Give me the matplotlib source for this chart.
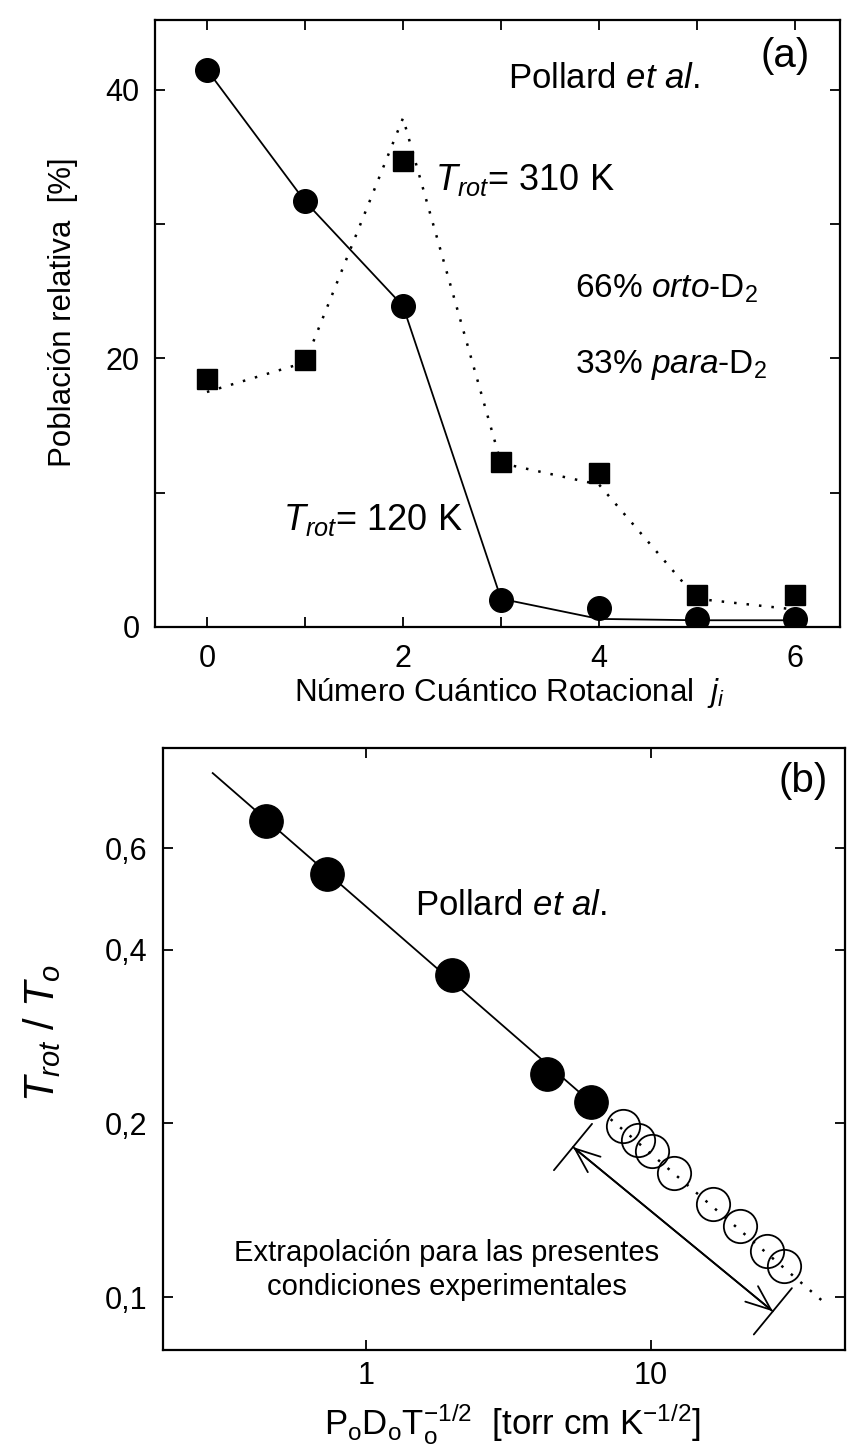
import matplotlib
matplotlib.use("Agg")
import matplotlib.pyplot as plt
from matplotlib.ticker import NullLocator

plt.rcParams['font.family'] = ['Liberation Sans', 'DejaVu Sans']
plt.rcParams['mathtext.fontset'] = 'custom'
plt.rcParams['mathtext.rm'] = 'Liberation Sans'
plt.rcParams['mathtext.it'] = 'Liberation Sans:italic'
plt.rcParams['mathtext.bf'] = 'Liberation Sans:bold'
plt.rcParams['mathtext.sf'] = 'Liberation Sans'

# (a) rotational populations, Pollard et al.
j_levels = [0, 1, 2, 3, 4, 5, 6]
pop_120K = [41.5, 31.7, 23.9, 2.0, 1.4, 0.6, 0.6]
pop_310K = [18.5, 19.9, 34.7, 12.3, 11.5, 2.4, 2.4]
fit_120K = [41.5, 31.7, 23.9, 2.1, 0.6, 0.5, 0.5]
fit_310K = [17.5, 19.7, 37.9, 12.2, 10.6, 2.1, 1.3]

# (b) T_rot/T_o vs PoDoTo^-1/2
x_pollard = [0.446, 0.730, 2.0, 4.32, 6.16]
y_pollard = [0.668, 0.541, 0.362, 0.244, 0.218]
x_fit = [0.29, 6.2]
y_fit = [0.809, 0.217]
x_extrap = [6.2, 40.0]
y_extrap = [0.217, 0.0985]
x_present = [7.97, 9.0, 10.1, 12.1, 16.5, 20.5, 25.5, 29.3]
y_present = [0.198, 0.187, 0.179, 0.164, 0.145, 0.133, 0.120, 0.113]
arrow_start = (5.33, 0.182)
arrow_end = (26.8, 0.0945)

fig = plt.figure(figsize=(8.47, 14.5), dpi=100)
ax1 = fig.add_axes([0.183, 0.5676, 0.809, 0.4186])
ax2 = fig.add_axes([0.1924, 0.0690, 0.8052, 0.4151])

for ax in (ax1, ax2):
    for s in ax.spines.values():
        s.set_linewidth(1.6)
    ax.tick_params(which='both', direction='in', top=True, right=True,
                   length=7, width=1.3, labelsize=22)
    ax.tick_params(axis='y', pad=11)
ax1.tick_params(axis='x', pad=12)
ax2.tick_params(axis='x', pad=8)

# ---- panel (a)
ax1.plot(j_levels, fit_120K, '-', color='k', lw=1.3)
ax1.plot(j_levels, fit_310K, color='k', lw=1.8, linestyle=(0, (1, 4)))
ax1.plot(j_levels, pop_120K, 'o', color='k', ms=17)
ax1.plot(j_levels, pop_310K, 's', color='k', ms=14)

ax1.set_xlim(-0.53, 6.46)
ax1.set_ylim(0, 45.2)
ax1.set_xticks([0, 2, 4, 6])
ax1.set_xticks([1, 3, 5], minor=True)
ax1.set_yticks([0, 20, 40])
ax1.set_yticks([10, 30], minor=True)

ax1.set_xlabel(r'Número Cuántico Rotacional  $j_i$', fontsize=22.5)
ax1.xaxis.set_label_coords(0.518, -0.081)
ax1.set_ylabel('Población relativa  [%]', fontsize=22.5)
ax1.yaxis.set_label_coords(-0.112, 0.519)

ax1.text(0.92, 0.94, '(a)', transform=ax1.transAxes, fontsize=29,
         ha='center', va='center')
ax1.text(0.515, 0.888, r'Pollard $\mathit{et\ al.}$', transform=ax1.transAxes,
         fontsize=25, ha='left', va='baseline')
ax1.text(0.409, 0.720, r'$T_{rot}$= 310 K', transform=ax1.transAxes,
         fontsize=26, ha='left', va='baseline')
ax1.text(0.187, 0.160, r'$T_{rot}$= 120 K', transform=ax1.transAxes,
         fontsize=26, ha='left', va='baseline')
ax1.text(0.613, 0.542, r'66% $\mathit{orto}$-D$_{\mathrm{2}}$', transform=ax1.transAxes,
         fontsize=24, ha='left', va='baseline')
ax1.text(0.613, 0.4185, r'33% $\mathit{para}$-D$_{\mathrm{2}}$', transform=ax1.transAxes,
         fontsize=24, ha='left', va='baseline')

# ---- panel (b)
ax2.set_xscale('log')
ax2.set_yscale('log')
ax2.plot(x_fit, y_fit, '-', color='k', lw=1.3)
ax2.plot(x_extrap, y_extrap, color='k', lw=1.8, linestyle=(0, (1, 4)))
ax2.plot(x_pollard, y_pollard, 'o', color='k', ms=24)
ax2.plot(x_present, y_present, 'o', mfc='none', mec='k', mew=1.3, ms=24)

ax2.annotate('', xy=arrow_end, xytext=arrow_start,
             arrowprops=dict(arrowstyle='<->, head_length=0.5, head_width=0.2',
                             mutation_scale=36, lw=1.3, color='k',
                             shrinkA=0, shrinkB=0))
ax2.annotate('', xy=arrow_end, xytext=arrow_start,
             arrowprops=dict(arrowstyle='|-|, widthA=0.6, widthB=0.6',
                             mutation_scale=36, lw=1.3, color='k',
                             shrinkA=0, shrinkB=0))

ax2.set_xlim(0.194, 48)
ax2.set_ylim(0.081, 0.894)
ax2.set_xticks([1, 10], ['1', '10'])
ax2.set_yticks([0.1, 0.2, 0.4, 0.6], ['0,1', '0,2', '0,4', '0,6'])
ax2.xaxis.set_minor_locator(NullLocator())
ax2.yaxis.set_minor_locator(NullLocator())

ax2.set_xlabel(r'$\mathrm{P_oD_oT_o^{-1/2}}$  [torr cm K$^{\mathrm{-1/2}}$]', fontsize=25)
ax2.xaxis.set_label_coords(0.513, -0.084)
ax2.set_ylabel(r'$T_{rot}\ /\ T_o$', fontsize=30)
ax2.yaxis.set_label_coords(-0.147, 0.527)

ax2.text(0.938, 0.945, '(b)', transform=ax2.transAxes, fontsize=29,
         ha='center', va='center')
ax2.text(0.3695, 0.7226, r'Pollard $\mathit{et\ al.}$', transform=ax2.transAxes,
         fontsize=25, ha='left', va='baseline')
ax2.text(0.4164, 0.133, 'Extrapolación para las presentes\ncondiciones experimentales',
         transform=ax2.transAxes, fontsize=21, ha='center', va='center',
         multialignment='center', linespacing=1.25)

fig.savefig('out.png', dpi=100)
